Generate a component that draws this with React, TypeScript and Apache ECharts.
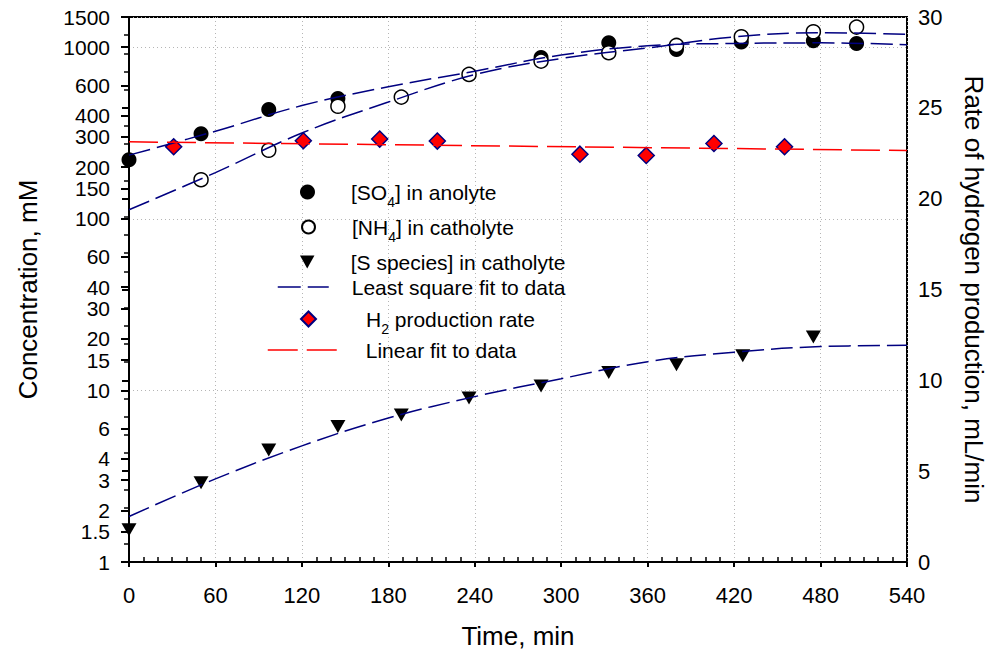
import React, { useEffect, useRef } from 'react';
import * as echarts from 'echarts';

const FONT = '"Liberation Sans", Arial, Helvetica, sans-serif';
const NAVY = '#000080';
const RED = '#ff0000';

// ---- Data ----
const timeSO4 = [0, 50, 97, 145, 286, 333, 380, 425, 475, 505];
const so4 = [221, 313, 434, 503, 872, 1062, 971, 1071, 1091, 1052];

const timeNH4 = [50, 97, 145, 189, 236, 286, 333, 380, 425, 475, 505];
const nh4 = [169, 251, 453, 512, 694, 830, 929, 1024, 1151, 1231, 1310];

const timeS = [0, 50, 97, 145, 189, 236, 286, 333, 380, 426, 475];
const sSpecies = [1.54, 2.9, 4.5, 6.16, 7.2, 9.02, 10.6, 12.7, 14.1, 15.9, 20.5];

const fitTime = [0, 60, 120, 180, 240, 300, 360, 420, 480, 540];
const so4Fit = [235, 324, 457, 588, 725, 900, 1020, 1052, 1060, 1035];
const nh4Fit = [113, 186, 316, 479, 692, 860, 990, 1148, 1216, 1189];
const sFit = [1.84, 3.05, 4.75, 6.9, 9.2, 11.7, 14.7, 16.7, 18.0, 18.3];

const timeH2 = [31, 121, 174, 214, 313, 359, 406, 455];
const h2Rate = [22.86, 23.19, 23.28, 23.17, 22.45, 22.38, 23.04, 22.86];

const h2FitTime = [0, 540];
const h2Fit = [23.13, 22.65];

// ---- Axis tick labels ----
const leftTickLabels = [1, 1.5, 2, 3, 4, 6, 10, 15, 20, 30, 40, 60, 100, 150, 200, 300, 400, 600, 1000, 1500];
const xMajorStep = 60;
const xMinorStep = 10;
const X_MAX = 540;
const Y_LEFT_MIN = 1;
const Y_LEFT_MAX = 1500;

const NAME_SO4 = '[SO4] in anolyte';
const NAME_NH4 = '[NH4] in catholyte';
const NAME_S = '[S species] in catholyte';
const NAME_FIT = 'Least square fit to data';
const NAME_H2 = 'H2 production rate';
const NAME_LIN = 'Linear fit to data';

const legendText: Record<string, string> = {
  [NAME_SO4]: '[SO{sub|4}] in anolyte',
  [NAME_NH4]: '[NH{sub|4}] in catholyte',
  [NAME_S]: '[S species] in catholyte',
  [NAME_FIT]: 'Least square fit to data',
  [NAME_H2]: 'H{sub|2} production rate',
  [NAME_LIN]: 'Linear fit to data',
};

const BLUE_DASH = [22, 7];
const RED_DASH = [29, 9];

const lg = Math.log10;
const pairsLog = (xs: number[], ys: number[]) => xs.map((x, i) => [x, lg(ys[i])]);
const pairs = (xs: number[], ys: number[]) => xs.map((x, i) => [x, ys[i]]);

export default function App() {
  const ref = useRef<HTMLDivElement>(null);

  useEffect(() => {
    if (!ref.current) return;
    const chart = echarts.init(ref.current, undefined, { renderer: 'svg' });

    const leftTickPos = leftTickLabels.map(lg);
    const minorX: number[] = [];
    for (let v = 0; v <= X_MAX; v += xMinorStep) if (v % xMajorStep !== 0) minorX.push(v);

    const LHEIGHT = 34;
    const mkLegend = (
      name: string, left: number, markerCy: number, w: number, h: number, pad: number, extra: any = {}
    ) => ({
      data: [name],
      left,
      top: markerCy - LHEIGHT / 2,
      orient: 'vertical',
      padding: 0,
      itemGap: 0,
      itemWidth: w,
      itemHeight: h,
      selectedMode: false,
      formatter: (n: string) => legendText[n] || n,
      textStyle: {
        fontSize: 21,
        color: '#000',
        fontFamily: FONT,
        lineHeight: LHEIGHT,
        padding: [0, 0, 0, pad],
        rich: {
          sub: { fontSize: 14, fontFamily: FONT, color: '#000', verticalAlign: 'bottom' },
        },
      },
      ...extra,
    });

    const lineLegendExtra = (color: string, dash: number[]) => ({
      itemStyle: { color: 'transparent', borderWidth: 0, opacity: 0 },
      lineStyle: { color, width: 1.5, type: dash, opacity: 1 },
    });

    const option: any = {
      animation: false,
      backgroundColor: '#fff',
      textStyle: { fontFamily: FONT },
      grid: {
        left: 129,
        right: 89,
        top: 17,
        bottom: 88,
        outerBoundsMode: 'none',
        containLabel: false,
        show: true,
        borderColor: '#000',
        borderWidth: 2,
        backgroundColor: 'transparent',
      },
      legend: [
        mkLegend(NAME_SO4, 300, 192, 15, 15, 31),
        mkLegend(NAME_NH4, 301, 227, 13, 13, 32),
        mkLegend(NAME_S, 300, 262, 15, 13, 31),
        mkLegend(NAME_FIT, 277, 287, 51, 14, 18, lineLegendExtra(NAVY, [23, 7])),
        mkLegend(NAME_H2, 300, 319, 15, 15, 45),
        mkLegend(NAME_LIN, 267, 350, 69, 14, 24, lineLegendExtra(RED, [30, 9])),
      ],
      xAxis: [
        {
          type: 'value',
          position: 'bottom',
          min: 0,
          max: X_MAX,
          interval: xMajorStep,
          name: 'Time, min',
          nameLocation: 'middle',
          nameGap: 61,
          nameTextStyle: { fontSize: 26, color: '#000', fontFamily: FONT },
          axisLine: { show: true, lineStyle: { color: '#000', width: 2 } },
          axisTick: { show: true, inside: false, length: 5, lineStyle: { color: '#000', width: 2 } },
          axisLabel: { fontSize: 22, color: '#000', margin: 22, fontFamily: FONT },
          splitLine: { show: true, lineStyle: { color: '#b5b5b5', width: 1, type: [1, 3] } },
        },
        {
          type: 'value',
          position: 'bottom',
          min: 0,
          max: X_MAX,
          axisLine: { show: false },
          axisLabel: { show: false },
          splitLine: { show: false },
          axisTick: { show: true, inside: true, length: 5, customValues: minorX, lineStyle: { color: '#000', width: 1.5 } },
        },
      ],
      yAxis: [
        {
          type: 'value',
          position: 'left',
          min: lg(Y_LEFT_MIN),
          max: lg(Y_LEFT_MAX),
          name: 'Concentration, mM',
          nameLocation: 'middle',
          nameGap: 88,
          nameTextStyle: { fontSize: 26, color: '#000', fontFamily: FONT },
          axisLine: { show: true, lineStyle: { color: '#000', width: 2 } },
          axisTick: { show: true, inside: false, length: 8, customValues: leftTickPos, lineStyle: { color: '#000', width: 2 } },
          axisLabel: {
            customValues: leftTickPos,
            fontSize: 21,
            lineHeight: 20,
            color: '#000',
            margin: 19,
            fontFamily: FONT,
            formatter: (v: number) => String(Math.round(Math.pow(10, v) * 10) / 10),
          },
          splitLine: { show: false },
        },
        {
          type: 'value',
          position: 'right',
          min: 0,
          max: 30,
          interval: 5,
          name: 'Rate of hydrogen production, mL/min',
          nameLocation: 'middle',
          nameRotate: -90,
          nameGap: 54,
          nameTextStyle: { fontSize: 26, color: '#000', fontFamily: FONT },
          axisLine: { show: true, lineStyle: { color: '#000', width: 2 } },
          axisTick: { show: true, inside: true, length: 7, lineStyle: { color: '#000', width: 2 } },
          minorTick: { show: true, splitNumber: 5, length: 5, lineStyle: { color: '#000', width: 1.5 } },
          axisLabel: { fontSize: 22, color: '#000', margin: 11, fontFamily: FONT },
          splitLine: { show: false },
        },
        {
          type: 'value',
          position: 'left',
          min: 0,
          max: lg(Y_LEFT_MAX),
          interval: 1,
          axisLine: { show: false },
          axisTick: { show: false },
          axisLabel: { show: false },
          splitLine: { show: true, lineStyle: { color: '#b5b5b5', width: 1, type: [1, 3] } },
        },
      ],
      series: [
        {
          name: NAME_FIT, type: 'line', yAxisIndex: 0, data: pairsLog(fitTime, so4Fit),
          smooth: 0.4, symbol: 'none', lineStyle: { color: NAVY, width: 1.5, type: BLUE_DASH }, itemStyle: { color: NAVY },
        },
        {
          name: NAME_FIT, type: 'line', yAxisIndex: 0, data: pairsLog(fitTime, nh4Fit),
          smooth: 0.4, symbol: 'none', lineStyle: { color: NAVY, width: 1.5, type: BLUE_DASH }, itemStyle: { color: NAVY },
        },
        {
          name: NAME_FIT, type: 'line', yAxisIndex: 0, data: pairsLog(fitTime, sFit),
          smooth: 0.4, symbol: 'none', lineStyle: { color: NAVY, width: 1.5, type: BLUE_DASH }, itemStyle: { color: NAVY },
        },
        {
          name: NAME_SO4, type: 'scatter', yAxisIndex: 0, data: pairsLog(timeSO4, so4),
          symbol: 'circle', symbolSize: 15, itemStyle: { color: '#000', opacity: 1 },
        },
        {
          name: NAME_NH4, type: 'scatter', yAxisIndex: 0, data: pairsLog(timeNH4, nh4),
          symbol: 'circle', symbolSize: 14, itemStyle: { color: '#fff', borderColor: '#000', borderWidth: 1.5, opacity: 1 },
        },
        {
          name: NAME_S, type: 'scatter', yAxisIndex: 0, data: pairsLog(timeS, sSpecies),
          symbol: 'path://M0 0L10 0L5 9Z', symbolSize: [15, 13], itemStyle: { color: '#000', opacity: 1 },
        },
        {
          name: NAME_H2, type: 'scatter', yAxisIndex: 1, data: pairs(timeH2, h2Rate),
          symbol: 'diamond', symbolSize: 16, itemStyle: { color: RED, borderColor: NAVY, borderWidth: 1.5, opacity: 1 },
        },
        {
          name: NAME_LIN, type: 'line', yAxisIndex: 1, data: pairs(h2FitTime, h2Fit),
          symbol: 'none', lineStyle: { color: RED, width: 1.5, type: RED_DASH }, itemStyle: { color: RED },
        },
      ],
    };

    chart.setOption(option);
    return () => chart.dispose();
  }, []);

  return (
    <div
      ref={ref}
      style={{ position: 'fixed', left: 0, top: 0, width: 996, height: 650, background: '#fff' }}
    />
  );
}
